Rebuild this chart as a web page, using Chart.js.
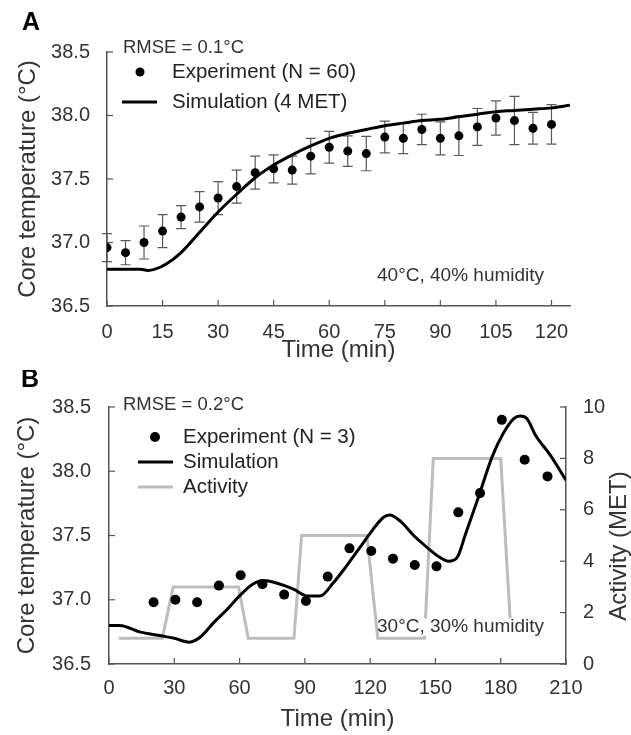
<!DOCTYPE html>
<html>
<head>
<meta charset="utf-8">
<script src="https://cdn.jsdelivr.net/npm/chart.js"></script>
<style>
html, body { margin: 0; padding: 0; background: #fff; }
#wrapA { position: absolute; left: 0; top: 0; width: 631px; height: 370px; }
#wrapB { position: absolute; left: 0; top: 370px; width: 631px; height: 365px; }
</style>
</head>
<body>
<div id="wrapA"><canvas id="chartA" width="631" height="370"></canvas></div>
<div id="wrapB"><canvas id="chartB" width="631" height="365"></canvas></div>
<script>
// panel A - 40°C, 40% humidity
const timeA = [0, 5, 10, 15, 20, 25, 30, 35, 40, 45, 50, 55, 60, 65, 70, 75, 80, 85, 90, 95, 100, 105, 110, 115, 120];
const expA = [36.96, 36.92, 37.00, 37.09, 37.20, 37.28, 37.35, 37.44, 37.55, 37.58, 37.57, 37.68, 37.75, 37.72, 37.70,
    37.83, 37.82, 37.89, 37.82, 37.84, 37.91, 37.98, 37.96, 37.90, 37.93];
const errA = [0.11, 0.095, 0.13, 0.13, 0.09, 0.12, 0.13, 0.13, 0.13, 0.11, 0.11, 0.14, 0.125, 0.12, 0.135,
    0.125, 0.12, 0.12, 0.13, 0.155, 0.145, 0.135, 0.19, 0.125, 0.155];
const simTimeA = [0, 9, 11, 13, 16, 20, 25, 30, 35, 40, 45, 50, 55, 60, 65, 70, 75, 80, 85, 90, 95, 100, 105, 110, 115, 120, 125];
const simA = [36.79, 36.79, 36.78, 36.79, 36.83, 36.92, 37.08, 37.24, 37.38, 37.51, 37.61, 37.69, 37.76, 37.82, 37.86,
    37.89, 37.92, 37.94, 37.96, 37.97, 37.99, 38.01, 38.03, 38.04, 38.05, 38.06, 38.08];

// panel B - 30°C, 30% humidity
const timeB = [20.5, 30.5, 40.5, 50.5, 60.5, 70.5, 80.5, 90.5, 100.5, 110.5, 120.5, 130.5, 140.5, 150.5, 160.5, 170.5, 180.5, 191, 201.5];
const expB = [36.98, 37.00, 36.98, 37.11, 37.19, 37.12, 37.04, 36.99, 37.18, 37.40, 37.38, 37.32, 37.27, 37.26,
    37.68, 37.83, 38.40, 38.09, 37.96];
const simTimeB = [0, 5, 14, 24, 30, 37, 42, 48, 54, 60, 66, 71, 77, 85, 91, 97, 103, 109, 115, 121, 126, 129, 134,
    140, 146, 152, 156, 160, 164, 170, 176, 181, 186, 189, 192, 196, 203, 210];
const simB = [36.80, 36.80, 36.75, 36.72, 36.70, 36.67, 36.71, 36.82, 36.92, 37.03, 37.12, 37.15, 37.13, 37.08, 37.03,
    37.03, 37.13, 37.26, 37.40, 37.54, 37.64, 37.66, 37.61, 37.50, 37.41, 37.33, 37.30, 37.33, 37.52, 37.81, 38.11,
    38.29, 38.41, 38.43, 38.41, 38.28, 38.12, 37.93];
const actTime = [4.5, 24.5, 29.5, 59.5, 64, 85, 88.5, 118.5, 123.5, 145, 149, 180, 184.5, 200];
const actMet = [1, 1, 3, 3, 1, 1, 5, 5, 1, 1, 8, 8, 1.5, 1.5];

const FONT = "'Liberation Sans', Arial, sans-serif";
const TEXT = '#333';
const AXIS = '#555';

function pts(xs, ys) {
    return xs.map((x, i) => ({ x: x, y: ys[i] }));
}

function txt(ctx, s, x, y, size, opt) {
    opt = opt || {};
    ctx.save();
    ctx.font = (opt.bold ? 'bold ' : '') + size + 'px ' + FONT;
    ctx.fillStyle = opt.color || TEXT;
    ctx.textBaseline = 'middle';
    ctx.textAlign = opt.align || 'left';
    if (opt.bg) {
        const w = ctx.measureText(s).width;
        ctx.fillStyle = '#fff';
        ctx.fillRect(x + 2, y - size * 0.45, w, size * 0.9);
        ctx.fillStyle = opt.color || TEXT;
    }
    ctx.fillText(s, x, y);
    ctx.restore();
}

const panelPlugin = {
    id: 'panel',
    beforeDatasetsDraw(chart, args, opts) {
        if (!opts.errors) return;
        const { ctx } = chart;
        const x = chart.scales.x, y = chart.scales.y;
        const e = opts.errors;
        ctx.save();
        ctx.strokeStyle = '#595959';
        ctx.lineWidth = 1.2;
        e.x.forEach((t, i) => {
            const px = x.getPixelForValue(t);
            const top = y.getPixelForValue(e.y[i] + e.e[i]);
            const bot = y.getPixelForValue(e.y[i] - e.e[i]);
            ctx.beginPath();
            ctx.moveTo(px, top); ctx.lineTo(px, bot);
            ctx.moveTo(px - 5, top); ctx.lineTo(px + 5, top);
            ctx.moveTo(px - 5, bot); ctx.lineTo(px + 5, bot);
            ctx.stroke();
        });
        ctx.restore();
    },
    afterDraw(chart, args, opts) {
        const ctx = chart.ctx;
        // inward tick marks
        ctx.save();
        ctx.strokeStyle = AXIS;
        ctx.lineWidth = 1.2;
        Object.values(chart.scales).forEach(s => {
            s.ticks.forEach(t => {
                const p = s.getPixelForValue(t.value);
                ctx.beginPath();
                if (s.isHorizontal()) {
                    ctx.moveTo(p, s.top); ctx.lineTo(p, s.top - 6);
                } else if (s.position === 'left') {
                    ctx.moveTo(s.right, p); ctx.lineTo(s.right + 6, p);
                } else {
                    ctx.moveTo(s.left, p); ctx.lineTo(s.left - 6, p);
                }
                ctx.stroke();
            });
        });
        ctx.restore();

        txt(ctx, opts.letter, opts.letterPos[0], opts.letterPos[1], 25, { bold: true, color: '#000' });
        txt(ctx, opts.rmse[0], opts.rmse[1], opts.rmse[2], 18.5);
        opts.items.forEach(it => {
            ctx.save();
            if (it.type === 'dot') {
                ctx.fillStyle = '#000';
                ctx.beginPath();
                ctx.arc(it.sx, it.y, it.r, 0, Math.PI * 2);
                ctx.fill();
            } else {
                ctx.strokeStyle = it.color;
                ctx.lineWidth = 3;
                ctx.beginPath();
                ctx.moveTo(it.sx, it.y); ctx.lineTo(it.ex, it.y);
                ctx.stroke();
            }
            ctx.restore();
            txt(ctx, it.text, it.tx, it.y, 20.5, { color: '#222' });
        });
        txt(ctx, opts.note[0], opts.note[1], opts.note[2], 19, { bg: opts.note[3] });
        if (opts.rightTitle) {
            ctx.save();
            ctx.translate(opts.rightTitle[1], opts.rightTitle[2]);
            ctx.rotate(-Math.PI / 2);
            txt(ctx, opts.rightTitle[0], 0, 0, 24, { align: 'center' });
            ctx.restore();
        }
    }
};

function tickFont() {
    return { family: FONT, size: 20 };
}

function axisCommon() {
    return {
        type: 'linear',
        grid: { display: true, drawOnChartArea: false, drawTicks: false },
        border: { color: AXIS, width: 1.5 },
    };
}

const ctxA = document.getElementById('chartA').getContext('2d');
const chartA = new Chart(ctxA, {
    type: 'scatter',
    data: {
        datasets: [{
            label: 'Experiment (N = 60)',
            data: pts(timeA, expA),
            pointRadius: 4.5,
            pointBackgroundColor: '#000',
            pointBorderWidth: 0,
            order: 1
        }, {
            label: 'Simulation (4 MET)',
            data: pts(simTimeA, simA),
            showLine: true,
            borderColor: '#000',
            borderWidth: 3,
            pointRadius: 0,
            cubicInterpolationMode: 'monotone',
            order: 2
        }]
    },
    options: {
        responsive: false,
        animation: false,
        events: [],
        layout: { padding: { left: 0, right: 61, top: 52, bottom: 0 } },
        plugins: {
            legend: { display: false },
            tooltip: { enabled: false },
            panel: {
                letter: 'A', letterPos: [22, 23],
                rmse: ['RMSE = 0.1°C', 123, 48],
                items: [
                    { type: 'dot', sx: 140, r: 4.5, y: 72, tx: 172, text: 'Experiment (N = 60)' },
                    { type: 'line', sx: 122, ex: 157, color: '#000', y: 102, tx: 172, text: 'Simulation (4 MET)' }
                ],
                note: ['40°C, 40% humidity', 377, 276, false],
                errors: { x: timeA, y: expA, e: errA }
            }
        },
        scales: {
            x: Object.assign(axisCommon(), {
                min: 0, max: 125,
                ticks: { stepSize: 15, includeBounds: false, padding: 14, font: tickFont(), color: TEXT },
                title: { display: true, text: 'Time (min)', color: TEXT, font: { family: FONT, size: 24 }, padding: { top: 0, bottom: 5 } },
                afterFit(s) { s.height = 64; }
            }),
            y: Object.assign(axisCommon(), {
                position: 'left',
                min: 36.5, max: 38.5,
                ticks: { stepSize: 0.5, padding: 17, font: tickFont(), color: TEXT, callback: v => v.toFixed(1) },
                title: { display: true, text: 'Core temperature (°C)', color: TEXT, font: { family: FONT, size: 24 }, padding: { top: 14, bottom: 0 } },
                afterFit(s) { s.width = 107; }
            })
        }
    },
    plugins: [panelPlugin]
});

const ctxB = document.getElementById('chartB').getContext('2d');
const chartB = new Chart(ctxB, {
    type: 'scatter',
    data: {
        datasets: [{
            label: 'Experiment (N = 3)',
            data: pts(timeB, expB),
            pointRadius: 5,
            pointBackgroundColor: '#000',
            pointBorderWidth: 0,
            yAxisID: 'y',
            order: 1
        }, {
            label: 'Simulation',
            data: pts(simTimeB, simB),
            showLine: true,
            borderColor: '#000',
            borderWidth: 3,
            pointRadius: 0,
            cubicInterpolationMode: 'monotone',
            yAxisID: 'y',
            order: 2
        }, {
            label: 'Activity',
            data: pts(actTime, actMet),
            showLine: true,
            borderColor: '#bdbdbd',
            borderWidth: 3,
            pointRadius: 0,
            yAxisID: 'y2',
            order: 3
        }]
    },
    options: {
        responsive: false,
        animation: false,
        events: [],
        layout: { padding: { left: 0, right: 0, top: 37, bottom: 0 } },
        plugins: {
            legend: { display: false },
            tooltip: { enabled: false },
            panel: {
                letter: 'B', letterPos: [21, 10],
                rmse: ['RMSE = 0.2°C', 123, 35],
                items: [
                    { type: 'dot', sx: 155, r: 5, y: 67, tx: 183, text: 'Experiment (N = 3)' },
                    { type: 'line', sx: 138, ex: 173, color: '#000', y: 92, tx: 183, text: 'Simulation' },
                    { type: 'line', sx: 138, ex: 173, color: '#bdbdbd', y: 117, tx: 183, text: 'Activity' }
                ],
                note: ['30°C, 30% humidity', 377, 257, true],
                rightTitle: ['Activity (MET)', 619, 176]
            }
        },
        scales: {
            x: Object.assign(axisCommon(), {
                min: 0, max: 210,
                ticks: { stepSize: 30, padding: 12, font: tickFont(), color: TEXT },
                title: { display: true, text: 'Time (min)', color: TEXT, font: { family: FONT, size: 24 }, padding: { top: 0, bottom: 1 } },
                afterFit(s) { s.height = 71; }
            }),
            y: Object.assign(axisCommon(), {
                position: 'left',
                min: 36.5, max: 38.5,
                ticks: { stepSize: 0.5, padding: 18, font: tickFont(), color: TEXT, callback: v => v.toFixed(1) },
                title: { display: true, text: 'Core temperature (°C)', color: TEXT, font: { family: FONT, size: 24 }, padding: { top: 13, bottom: 0 } },
                afterFit(s) { s.width = 109; }
            }),
            y2: Object.assign(axisCommon(), {
                position: 'right',
                min: 0, max: 10,
                ticks: { stepSize: 2, padding: 17, font: tickFont(), color: TEXT },
                afterFit(s) { s.width = 65; }
            })
        }
    },
    plugins: [panelPlugin]
});
</script>
</body>
</html>
